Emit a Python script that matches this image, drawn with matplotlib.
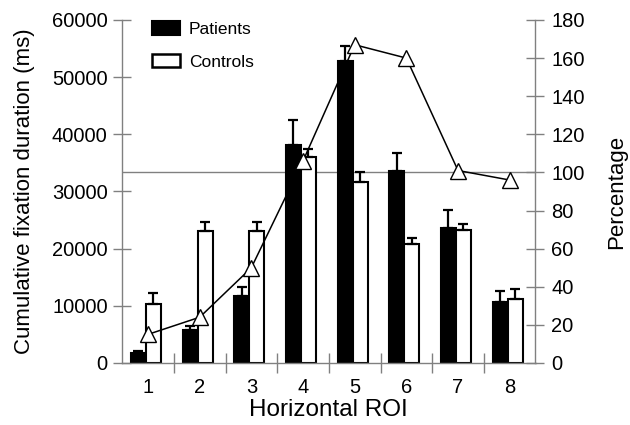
import matplotlib
matplotlib.use("Agg")
import matplotlib.pyplot as plt
import numpy as np
from matplotlib.patches import Patch

plt.rcParams['font.family'] = ['Liberation Sans', 'DejaVu Sans']

rois = [1, 2, 3, 4, 5, 6, 7, 8]
patients = [1700, 5800, 11700, 38200, 52800, 33500, 23600, 10600]
patients_err = [400, 700, 1600, 4300, 2600, 3200, 3100, 1900]
controls = [10300, 23100, 23000, 36100, 31700, 20800, 23300, 11100]
controls_err = [2000, 1600, 1600, 1400, 1700, 1000, 1000, 1800]
percentage = [15, 24, 50, 106, 167, 160, 101, 96]

GRAY = '#808080'
fig = plt.figure(figsize=(6.3, 4.25), dpi=100)
ax = fig.add_axes([0.194, 0.146, 0.656, 0.807])
ax2 = ax.twinx()

x = np.array(rois, dtype=float)
w = 0.29
ax.bar(x - 0.185, patients, width=w, color='black', edgecolor='black', lw=1.5, zorder=2)
ax.bar(x + 0.105, controls, width=w, color='white', edgecolor='black', lw=1.5, zorder=2)
ax.errorbar(x - 0.185, patients, yerr=[np.zeros(8), patients_err], fmt='none',
            ecolor='black', elinewidth=1.6, capsize=3.5, capthick=1.6, zorder=3)
ax.errorbar(x + 0.105, controls, yerr=[np.zeros(8), controls_err], fmt='none',
            ecolor='black', elinewidth=1.6, capsize=3.5, capthick=1.6, zorder=3)
ax.axhline(100 * 60000 / 180, color=GRAY, lw=1.0, zorder=1)

ax.set_xlim(0.5, 8.5)
ax.set_ylim(0, 60000)
ax.set_yticks(np.arange(0, 60001, 10000))
ax.set_xticks(x)
ax.set_xticklabels([str(r) for r in rois])
ax.set_xticks(np.arange(1.5, 8.5, 1), minor=True)

ax2.plot(x, percentage, color='black', lw=1.1, marker='^', ms=12,
         mfc='white', mec='black', mew=1.0, zorder=4)
ax2.set_ylim(0, 180)
ax2.set_yticks(np.arange(0, 181, 20))

for a in (ax, ax2):
    a.spines['top'].set_visible(False)
    for s in ('left', 'right', 'bottom'):
        a.spines[s].set_color(GRAY)
        a.spines[s].set_linewidth(1.0)
ax.spines['right'].set_visible(False)
ax2.spines['left'].set_visible(False)
ax2.spines['bottom'].set_visible(False)

ax.tick_params(axis='y', direction='inout', length=13, width=1, color=GRAY,
               labelsize=14.5, pad=4)
ax2.tick_params(axis='y', direction='inout', length=13, width=1, color=GRAY,
                labelsize=14.5, pad=5)
ax.tick_params(axis='x', which='major', length=0, labelsize=14.5, pad=11)
ax.tick_params(axis='x', which='minor', direction='inout', length=14, width=1, color=GRAY)

ax.set_ylabel('Cumulative fixation duration (ms)', fontsize=16, labelpad=12)
ax2.set_ylabel('Percentage', fontsize=16)
ax2.yaxis.set_label_coords(1.17, 0.5)
ax.set_xlabel('Horizontal ROI', fontsize=17.5, labelpad=1)

handles = [Patch(facecolor='black', edgecolor='black', lw=1.5, label='Patients'),
           Patch(facecolor='white', edgecolor='black', lw=1.8, label='Controls')]
ax2.legend(handles=handles, loc='upper left', bbox_to_anchor=(0.073, 0.998),
           frameon=False, fontsize=12.5, handlelength=1.6, handleheight=0.85,
           labelspacing=0.98, handletextpad=0.5, borderpad=0, borderaxespad=0)

fig.savefig('out.png', dpi=100)
